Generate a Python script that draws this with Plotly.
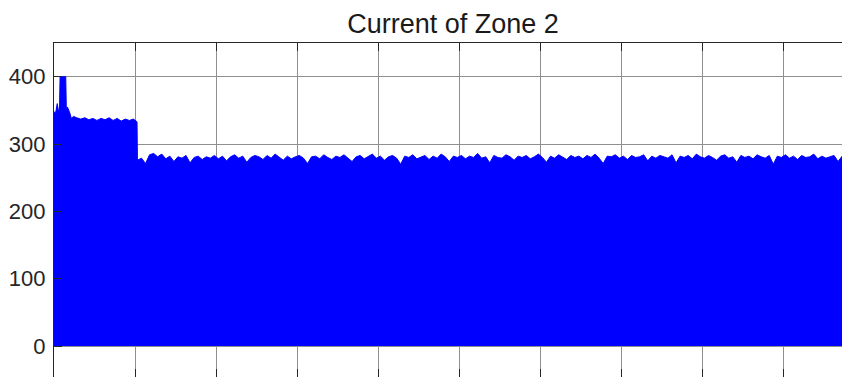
import numpy as np
import plotly.graph_objects as go

# Start-up transient of the zone 2 current (peak envelope, A)
t_startup = [0, 0.002, 0.004, 0.0055, 0.0068, 0.0075, 0.0145, 0.0152, 0.0165,
             0.019, 0.0215, 0.024, 0.028, 0.033, 0.038, 0.043, 0.048, 0.053,
             0.058, 0.063, 0.068, 0.073, 0.078, 0.083, 0.088, 0.093, 0.098, 0.1025]
i_startup = [348, 346, 360, 349, 352, 400, 400, 352, 355,
             348, 338, 341, 339, 337, 339, 336, 338, 335,
             338, 336, 339, 335, 338, 334, 337, 335, 337, 333]

# Steady-state peak envelope after the load step, sampled every 5 ms from t = 0.103 s
t_steady_start = 0.103
t_steady_step = 0.005
i_steady = [
    276, 279, 271, 284, 286, 281, 285, 278, 282, 274,
    281, 279, 283, 272, 280, 282, 277, 281, 279, 283,
    278, 282, 275, 281, 284, 279, 282, 273, 280, 283,
    281, 277, 283, 279, 285, 280, 276, 282, 278, 281,
    283, 279, 271, 281, 282, 278, 284, 280, 277, 282,
    280, 284, 279, 274, 281, 283, 278, 282, 285, 279,
    282, 276, 281, 283, 279, 270, 282, 280, 284, 278,
    281, 283, 277, 282, 279, 285, 281, 274, 282, 280,
    283, 278, 282, 280, 286, 279, 281, 272, 283, 280,
    279, 284, 281, 276, 282, 280, 283, 278, 281, 285,
    280, 273, 282, 279, 284, 281, 277, 283, 280, 282,
    278, 283, 280, 285, 279, 271, 282, 281, 284, 279,
    282, 277, 283, 280, 281, 284, 275, 282, 279, 283,
    281, 279, 284, 272, 282, 280, 283, 278, 285, 281,
    279, 283, 280, 276, 282, 284, 279, 281, 273, 283,
    280, 282, 278, 284, 281, 279, 283, 270, 282, 280,
    284, 279, 282, 277, 283, 280, 281, 285, 278, 282,
    279, 281, 283, 274, 282, 280,
]

y_ticks = [0, 100, 200, 300, 400]
title_text = "Current of Zone 2"

t_steady = t_steady_start + t_steady_step * np.arange(len(i_steady))
t_all = list(t_startup) + list(t_steady)
i_all = list(i_startup) + list(i_steady)

W, H = 842, 377
L, T = 54, 43
axis_col = "#262626"
grid_col = "#8f8f8f"
font_fam = "Liberation Sans, Arial, Helvetica, sans-serif"

fig = go.Figure()
fig.add_trace(go.Scatter(
    x=t_all, y=i_all, mode="lines",
    line=dict(color="#0000ff", width=1),
    fill="tozeroy", fillcolor="#0000ff",
    hoverinfo="skip", showlegend=False,
))
# invisible trace to bind the top mirror axis
fig.add_trace(go.Scatter(x=[0], y=[0], xaxis="x2", mode="markers",
                         marker=dict(opacity=0), hoverinfo="skip", showlegend=False))

x_range = [0, (W - L) / 810]

fig.update_layout(
    width=W, height=H,
    margin=dict(l=L, r=0, t=T, b=0, pad=0),
    paper_bgcolor="white", plot_bgcolor="white",
    font=dict(family=font_fam, color=axis_col, size=21),
    title=dict(text=title_text, xref="container", x=453 / W, xanchor="center",
               yref="container", y=(H - 24) / H, yanchor="middle",
               font=dict(size=27, color="#1a1a1a", family=font_fam)),
    xaxis=dict(range=x_range, dtick=0.1, tick0=0, showticklabels=False,
               showgrid=True, gridcolor=grid_col, gridwidth=1,
               zeroline=False, showline=False,
               ticks="inside", ticklen=8, tickcolor=axis_col, tickwidth=1),
    xaxis2=dict(range=x_range, dtick=0.1, tick0=0, overlaying="x", side="top",
                showticklabels=False, showgrid=False, zeroline=False,
                showline=True, linecolor=axis_col, linewidth=1.3,
                ticks="inside", ticklen=8, tickcolor=axis_col, tickwidth=1),
    yaxis=dict(range=[-46, 450], tickvals=y_ticks, showgrid=True,
               gridcolor=grid_col, gridwidth=1, zeroline=False,
               showline=True, linecolor=axis_col, linewidth=1.3,
               ticks="inside", ticklen=8, tickcolor=axis_col, tickwidth=1,
               ticklabelstandoff=3,
               tickfont=dict(size=22, color=axis_col, family=font_fam)),
)

fig.write_html("out.html")
